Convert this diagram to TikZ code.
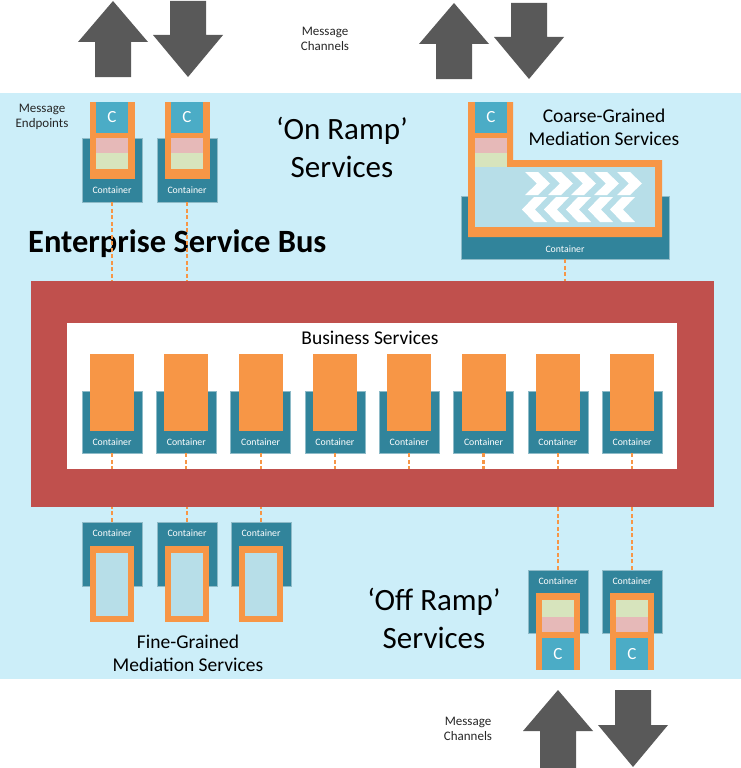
\documentclass[tikz,border=0pt]{standalone}
\usepackage{fontspec}
\setmainfont{Carlito}
\usetikzlibrary{calc}
\definecolor{bgblue}{HTML}{CCEEF9}
\definecolor{busred}{HTML}{C0504D}
\definecolor{conteal}{HTML}{31849B}
\definecolor{svcorange}{HTML}{F79646}
\definecolor{cblue}{HTML}{4BACC6}
\definecolor{medblue}{HTML}{B7DEE8}
\definecolor{pinkbar}{HTML}{E6B9B8}
\definecolor{greenbar}{HTML}{D7E4BD}
\definecolor{arrowgray}{HTML}{595959}

\begin{document}
\begin{tikzpicture}[x=1pt, y=-1pt, inner sep=0pt,
		cont/.style={fill=conteal, draw=conteal!55!white, line width=0.5pt, minimum width=60pt},
		clabel/.style={text=white, font=\fontsize{9.8}{10}\selectfont},
		link/.style={draw=svcorange, dash pattern=on 4pt off 2.5pt, line width=2.2pt},
		small/.style={align=center, text=black!85, font=\fontsize{13}{15}\selectfont},
		mid/.style={align=center, font=\fontsize{19.5}{23}\selectfont},
		big/.style={align=center, font=\fontsize{31}{38}\selectfont}]
		\useasboundingbox (0,0) rectangle (741,768);
		\fill[bgblue] (0,93) rectangle (741,679);
		% message channel arrows
		\foreach \ax/\at/\ab in {113/1/77, 454/3/79, 558/690/768}
			\fill[arrowgray] (\ax,\at) -- (\ax+35,\at+41) -- (\ax+18,\at+41) -- (\ax+18,\ab) -- (\ax-18,\ab) -- (\ax-18,\at+41) -- (\ax-35,\at+41) -- cycle;
		\foreach \ax/\at/\ab in {188/1/77, 529/3/79, 633/690/767}
			\fill[arrowgray] (\ax,\ab) -- (\ax+35,\ab-42) -- (\ax+18,\ab-42) -- (\ax+18,\at) -- (\ax-18,\at) -- (\ax-18,\ab-42) -- (\ax-35,\ab-42) -- cycle;
		\node[small] (chtop) at (325,39) {Message\\Channels};
		\node[small] (chbot) at (468,729) {Message\\Channels};
		\node[small] (endpts) at (42,117) {Message\\Endpoints};
		% the bus
		\node[fill=busred, minimum width=683pt, minimum height=226pt] (bus) at (372.5,394) {};
		\node[fill=white, minimum width=610pt, minimum height=146pt] (bizarea) at (372,396) {};
		\node[mid] (biz) at (370,338) {Business Services};
		\node[anchor=base west, font=\fontsize{32.5}{34}\selectfont\bfseries] (esb) at (28,252) {Enterprise Service Bus};
		% on ramp endpoints
		\foreach \n/\cx in {1/112, 2/187} {
			\node[cont, minimum height=64pt] (on\n) at (\cx,170) {};
			\fill[svcorange] (\cx-22.5,102) rectangle (\cx+22.5,179);
			\fill[cblue] (\cx-16,102) rectangle (\cx+16,133);
			\fill[pinkbar] (\cx-16,138) rectangle (\cx+16,153);
			\fill[greenbar] (\cx-16,153) rectangle (\cx+16,169);
			\node[text=white, font=\fontsize{17}{18}\selectfont] at (\cx,117.5) {C};
			\node[clabel] at (\cx,190) {Container};
			\draw[link] (on\n.south) -- (on\n.south |- bus.north);
		}
		\node[big] (onramp) at (342,147) {‘On Ramp’\\Services};
		% coarse-grained mediation
		\node[cont, minimum width=208pt, minimum height=63pt] (coarse) at (565,227.5) {};
		\fill[svcorange] (468,102) -- (513,102) -- (513,160) -- (662,160) -- (662,237) -- (468,237) -- cycle;
		\fill[medblue] (475,167) rectangle (655,227);
		\fill[cblue] (475,102) rectangle (507,133);
		\fill[pinkbar] (475,138) rectangle (507,153);
		\fill[greenbar] (475,153) rectangle (507,167);
		\node[text=white, font=\fontsize{17}{18}\selectfont] at (491,117.5) {C};
		\foreach \i in {0,...,4} {
			\fill[white] (525+23*\i,172) -- (538+23*\i,172) -- (550+23*\i,183.5) -- (538+23*\i,195) -- (525+23*\i,195) -- (537+23*\i,183.5) -- cycle;
			\fill[white] (547+22*\i,197) -- (534+22*\i,197) -- (522+22*\i,209.5) -- (534+22*\i,222) -- (547+22*\i,222) -- (535+22*\i,209.5) -- cycle;
		}
		\node[clabel] at (565,249) {Container};
		\node[mid] (coarsetxt) at (604,127) {Coarse-Grained\\Mediation Services};
		\draw[link] (coarse.south) -- (coarse.south |- bus.north);
		% business services
		\foreach \n in {0,...,7} {
			\pgfmathsetmacro{\cx}{112+74.3*\n}
			\node[cont, minimum height=62pt] (bs\n) at (\cx,422) {};
			\fill[svcorange] (\cx-22,354) rectangle (\cx+22,431);
			\node[clabel] at (\cx,442) {Container};
			\draw[link] (bs\n.south) -- (bs\n.south |- bizarea.south);
		}
		% fine-grained mediation
		\foreach \n/\cx in {1/112, 2/187, 3/261} {
			\node[cont, minimum height=64pt] (fine\n) at (\cx,554) {};
			\fill[svcorange] (\cx-22,546) rectangle (\cx+22,622);
			\fill[medblue] (\cx-16,553) rectangle (\cx+16,616);
			\node[clabel] at (\cx,533) {Container};
			\draw[link] (fine\n.north) -- (fine\n.north |- bus.south);
		}
		\node[mid] (finetxt) at (188,653) {Fine-Grained\\Mediation Services};
		% off ramp endpoints
		\foreach \n/\cx in {1/558, 2/632} {
			\node[cont, minimum height=63pt] (off\n) at (\cx,601.5) {};
			\fill[svcorange] (\cx-22,593) rectangle (\cx+22,670);
			\fill[greenbar] (\cx-16,600) rectangle (\cx+16,617);
			\fill[pinkbar] (\cx-16,617) rectangle (\cx+16,632);
			\fill[cblue] (\cx-16,638) rectangle (\cx+16,670);
			\node[text=white, font=\fontsize{17}{18}\selectfont] at (\cx,654) {C};
			\node[clabel] at (\cx,581) {Container};
			\draw[link] (off\n.north) -- (off\n.north |- bus.south);
		}
		\node[big] (offramp) at (434,618) {‘Off Ramp’\\Services};
	\end{tikzpicture}
\end{document}
